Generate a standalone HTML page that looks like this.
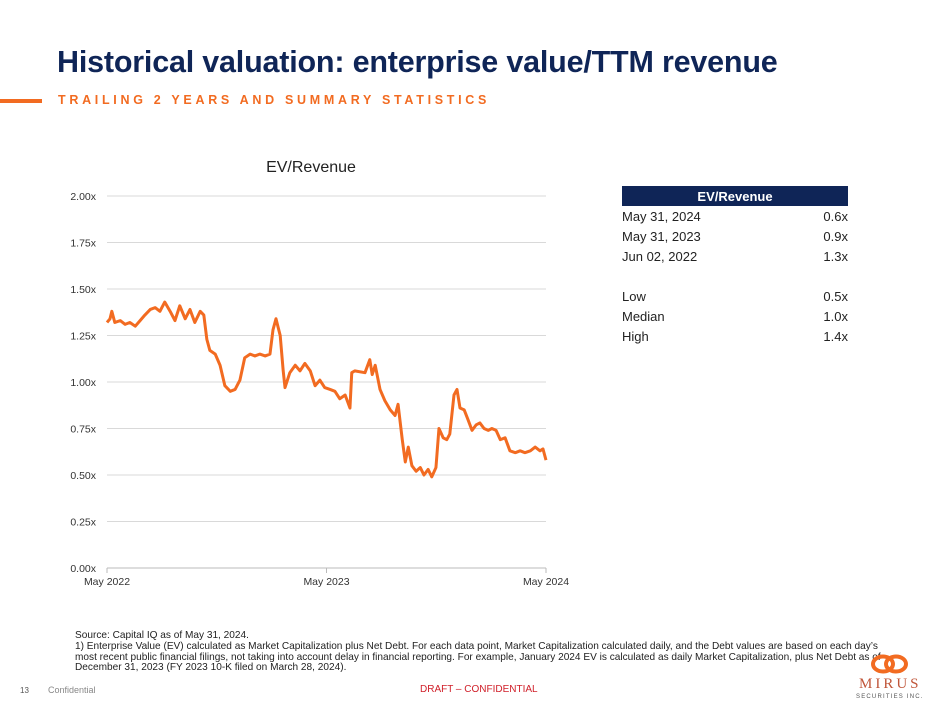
<!DOCTYPE html>
<html><head><meta charset="utf-8">
<style>
body{margin:0;width:950px;height:713px;position:relative;background:#fff;font-family:"Liberation Sans",sans-serif;overflow:hidden}
.abs{position:absolute;white-space:nowrap}
#title{left:57px;top:45px;font-size:30.5px;font-weight:bold;color:#0f2557;letter-spacing:-0.2px}
#sub{left:58px;top:93px;font-size:12.5px;font-weight:bold;color:#f26b21;letter-spacing:3.7px}
#bar{left:0;top:99px;width:42px;height:4px;background:#f26b21}
table{position:absolute;left:622px;top:186px;width:226px;border-collapse:collapse;font-size:13px;color:#222}
th{background:#0f2557;color:#fff;height:20px;padding:0;font-size:13px}
td{height:20px;padding:0}
td.v{text-align:right}
.fn{left:75px;font-size:10.1px;color:#222;line-height:10.8px}
</style></head><body>
<div id="title" class="abs">Historical valuation: enterprise value/TTM revenue</div>
<div id="bar" class="abs"></div>
<div id="sub" class="abs">TRAILING 2 YEARS AND SUMMARY STATISTICS</div>
<svg id="chart" class="abs" style="left:0;top:0" width="600" height="600"></svg>
<table>
<tr><th colspan="2">EV/Revenue</th></tr>
<tr><td>May 31, 2024</td><td class="v">0.6x</td></tr>
<tr><td>May 31, 2023</td><td class="v">0.9x</td></tr>
<tr><td>Jun 02, 2022</td><td class="v">1.3x</td></tr>
<tr><td></td><td></td></tr>
<tr><td>Low</td><td class="v">0.5x</td></tr>
<tr><td>Median</td><td class="v">1.0x</td></tr>
<tr><td>High</td><td class="v">1.4x</td></tr>
</table>
<div class="abs fn" style="top:631px">Source: Capital IQ as of May 31, 2024.<br>1) Enterprise Value (EV) calculated as Market Capitalization plus Net Debt. For each data point, Market Capitalization calculated daily, and the Debt values are based on each day’s<br>most recent public financial filings, not taking into account delay in financial reporting. For example, January 2024 EV is calculated as daily Market Capitalization, plus Net Debt as of<br>December 31, 2023 (FY 2023 10-K filed on March 28, 2024).</div>
<div class="abs" style="left:20px;top:686px;font-size:8px;color:#555">13</div>
<div class="abs" style="left:48px;top:685px;font-size:9px;color:#888">Confidential</div>
<div class="abs" style="left:420px;top:684px;font-size:10px;color:#d0202a">DRAFT – CONFIDENTIAL</div>
<svg class="abs" style="left:865px;top:653px" width="50" height="22">
<ellipse cx="18" cy="11" rx="10" ry="7.5" fill="none" stroke="#f26b21" stroke-width="4"/>
<ellipse cx="31" cy="11" rx="10" ry="7.5" fill="none" stroke="#f26b21" stroke-width="4"/></svg>
<div class="abs" style="left:859px;top:676px;font-size:15px;color:#c0563a;letter-spacing:3px;font-family:'Liberation Serif',serif">MIRUS</div>
<div class="abs" style="left:856px;top:694px;font-size:6px;color:#555;letter-spacing:1.2px">SECURITIES INC.</div>
<script>
const days=[0,5,8,13,22,30,38,47,55,63,72,80,88,96,105,113,121,130,138,146,155,161,166,171,180,188,196,205,213,221,229,238,246,254,263,271,276,281,288,293,296,304,313,321,329,338,346,354,362,371,379,387,396,404,407,412,429,437,441,446,454,462,471,479,484,491,496,501,507,514,521,527,534,540,547,552,559,565,570,577,582,587,594,600,607,614,620,627,634,640,647,654,662,670,679,687,695,704,712,720,725,730];
const values=[1.32,1.34,1.38,1.32,1.33,1.31,1.32,1.30,1.33,1.36,1.39,1.40,1.38,1.43,1.38,1.33,1.41,1.34,1.39,1.32,1.38,1.36,1.23,1.17,1.15,1.09,0.98,0.95,0.96,1.01,1.13,1.15,1.14,1.15,1.14,1.15,1.28,1.34,1.25,1.06,0.97,1.05,1.09,1.06,1.10,1.06,0.98,1.01,0.97,0.96,0.95,0.91,0.93,0.86,1.05,1.06,1.05,1.12,1.04,1.09,0.96,0.90,0.85,0.82,0.88,0.69,0.57,0.65,0.55,0.52,0.54,0.50,0.53,0.49,0.54,0.75,0.70,0.69,0.72,0.93,0.96,0.86,0.85,0.80,0.74,0.77,0.78,0.75,0.74,0.75,0.74,0.69,0.70,0.63,0.62,0.63,0.62,0.63,0.65,0.63,0.64,0.58];
const yTicks=[0,0.25,0.5,0.75,1,1.25,1.5,1.75,2];
const yTickLabels=["0.00x","0.25x","0.50x","0.75x","1.00x","1.25x","1.50x","1.75x","2.00x"];
const xTicks=[0,365,730];
const xTickLabels=["May 2022","May 2023","May 2024"];
const NS="http://www.w3.org/2000/svg";
const svg=document.getElementById('chart');
const X0=107,X1=546,Y0=568,Y1=196;
const xs=d=>X0+(X1-X0)*d/730;
const ys=v=>Y0-(Y0-Y1)*v/2;
function mk(t,a){const e=document.createElementNS(NS,t);for(const k in a)e.setAttribute(k,a[k]);svg.appendChild(e);return e;}
yTicks.forEach((v,i)=>{
  const g=mk('line',{x1:X0,x2:X1,y1:ys(v),y2:ys(v),stroke:v===0?'#bbb':'#d9d9d9','stroke-width':1});
  
  
  const t=mk('text',{x:96,y:ys(v)+4,'text-anchor':'end','font-size':10.5,fill:'#333','font-family':'Liberation Sans'});
  t.textContent=yTickLabels[i];
  
  
});
xTicks.forEach((d,i)=>{
  const l=mk('line',{x1:xs(d),x2:xs(d),y1:Y0,y2:Y0+5,stroke:'#bbb'});
  
  
  const t=mk('text',{x:xs(d),y:Y0+17,'text-anchor':'middle','font-size':10.5,fill:'#333','font-family':'Liberation Sans'});
  t.textContent=xTickLabels[i];
  
  
});
const ct=mk('text',{x:311,y:172,'text-anchor':'middle','font-size':16,fill:'#222','font-family':'Liberation Sans'});
ct.textContent='EV/Revenue';


const p=mk('polyline',{points:days.map((d,i)=>xs(d)+','+ys(values[i])).join(' '),fill:'none',stroke:'#f26b21','stroke-width':3,'stroke-linejoin':'round'});


</script>
</body></html>
